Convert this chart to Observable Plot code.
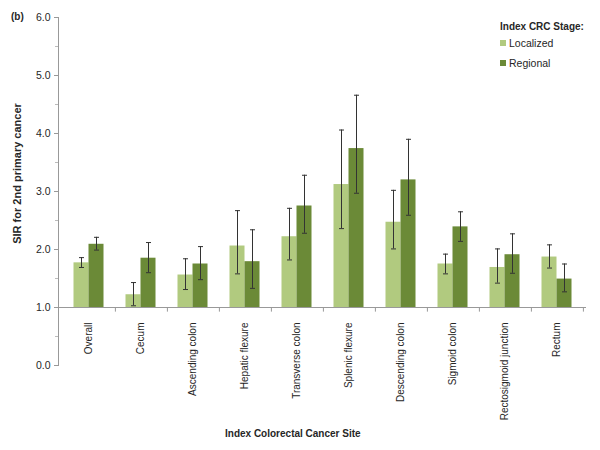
<!DOCTYPE html>
<html>
<head>
<meta charset="utf-8">
<script src="https://cdn.jsdelivr.net/npm/d3@7"></script>
<script src="https://cdn.jsdelivr.net/npm/@observablehq/plot@0.6"></script>
<style>
  html, body { margin: 0; padding: 0; background: #fff; }
  #wrap { position: relative; width: 600px; height: 450px; font-family: "Liberation Sans", Arial, sans-serif; color: #262626; }
  .b { font-weight: bold; font-size: 10px; position: absolute; }
  .leg { position: absolute; font-size: 10.5px; display: flex; align-items: center; }
  .sw { width: 6px; height: 6px; margin-right: 3px; display: inline-block; }
</style>
</head>
<body>
<div id="wrap"></div>
<script>
const sites = ["Overall","Cecum","Ascending colon","Hepatic flexure","Transverse colon","Splenic flexure","Descending colon","Sigmoid colon","Rectosigmoid junction","Rectum"];
const stages = ["Localized","Regional"];
const localized   = [1.77,1.22,1.56,2.06,2.22,3.12,2.47,1.75,1.69,1.87];
const localizedLo = [1.69,1.03,1.31,1.58,1.82,2.36,2.01,1.58,1.42,1.68];
const localizedHi = [1.86,1.43,1.84,2.67,2.71,4.06,3.02,1.92,2.01,2.08];
const regional    = [2.09,1.85,1.75,1.79,2.75,3.74,3.20,2.39,1.91,1.49];
const regionalLo  = [1.99,1.60,1.48,1.33,2.28,2.97,2.59,2.14,1.59,1.27];
const regionalHi  = [2.21,2.12,2.05,2.34,3.28,4.66,3.90,2.65,2.27,1.75];
const yTicks = [0,1,2,3,4,5,6];
const yMinor = [0.5,1.5,2.5,3.5,4.5,5.5];
const colors = ["#B1CA7F", "#6B8A37"];

const W = 600, H = 450, mL = 58, mR = 14, mT = 17, mB = 85;
const step = (W - mL - mR) / sites.length;
const half = 7.5;

const locRows = sites.map((s, i) => ({site: s, value: localized[i], lo: localizedLo[i], hi: localizedHi[i]}));
const regRows = sites.map((s, i) => ({site: s, value: regional[i], lo: regionalLo[i], hi: regionalHi[i]}));

const cap = {draw(ctx) { ctx.moveTo(-2.5, 0); ctx.lineTo(2.5, 0); }};
const errStroke = "#333";

function seriesMarks(rows, color, dx) {
  return [
    Plot.barY(rows, {x: "site", y1: 1, y2: "value", fill: color, dx}),
    Plot.ruleX(rows, {x: "site", y1: "lo", y2: "hi", stroke: errStroke, strokeWidth: 1, dx}),
    Plot.dot(rows, {x: "site", y: "lo", symbol: cap, fill: "none", stroke: errStroke, strokeWidth: 1, dx}),
    Plot.dot(rows, {x: "site", y: "hi", symbol: cap, fill: "none", stroke: errStroke, strokeWidth: 1, dx})
  ];
}

const chart = Plot.plot({
  width: W, height: H,
  marginLeft: mL, marginRight: mR, marginTop: mT, marginBottom: mB,
  style: {fontFamily: "Liberation Sans, Arial, sans-serif", fontSize: "10px", color: "#262626", background: "#fff"},
  x: {type: "band", domain: sites, paddingInner: 1 - 15 / step, paddingOuter: (1 - 15 / step) / 2, axis: null},
  y: {domain: [0, 6], axis: null},
  marks: [
    Plot.axisY(yMinor, {tickSize: 3, tickFormat: () => "", stroke: "#bbb"}),
    Plot.axisY(yTicks, {tickSize: 4, tickPadding: 4, tickFormat: d3.format(".1f"), stroke: "#999", label: null, fontSize: 10.5}),
    Plot.frame({anchor: "left", stroke: "#999"}),
    Plot.ruleY([1], {stroke: "#999"}),
    Plot.ruleX(sites, {x: d => d, y1: 1, y2: 0.92, dx: step / 2, stroke: "#999"}),
    ...seriesMarks(locRows, colors[0], -half),
    ...seriesMarks(regRows, colors[1], half),
    Plot.text(sites, {x: d => d, y: () => 1, dy: 15, rotate: -90, textAnchor: "end", fontSize: 10}),
    Plot.text(["SIR for 2nd primary cancer"], {frameAnchor: "left", textAnchor: "middle", dx: -41, dy: -18, rotate: -90, fontWeight: "bold", fontSize: 11})
  ]
});

const wrap = document.getElementById("wrap");
wrap.appendChild(chart);

function addDiv(cls, html, style) {
  const d = document.createElement("div");
  d.className = cls; d.innerHTML = html;
  Object.assign(d.style, style);
  wrap.appendChild(d);
}
addDiv("b", "(b)", {left: "11px", top: "11px"});
addDiv("b", "Index CRC Stage:", {left: "500px", top: "21px"});
stages.forEach((s, i) => {
  addDiv("leg", `<span class="sw" style="background:${colors[i]}"></span>${s}`, {left: "500px", top: (37 + i * 20) + "px"});
});
addDiv("b", "Index Colorectal Cancer Site", {left: "225px", top: "428px"});
</script>
</body>
</html>
